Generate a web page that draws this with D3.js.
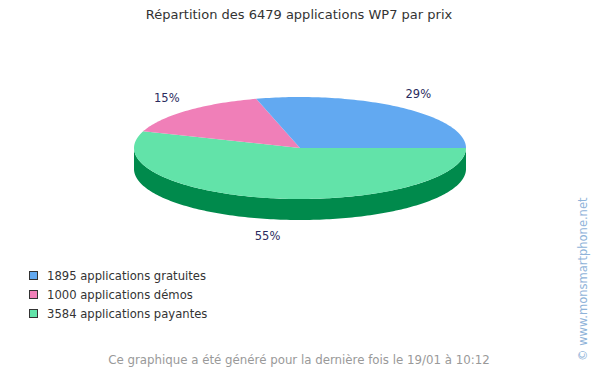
<!DOCTYPE html>
<html>
<head>
<meta charset="utf-8">
<script src="https://cdn.jsdelivr.net/npm/d3@7"></script>
<style>
  body { margin: 0; background: #fff; }
  text { font-family: "DejaVu Sans", sans-serif; }
</style>
</head>
<body>
<div id="chart"></div>
<script>
const title = "Répartition des 6479 applications WP7 par prix";
const labels = ["1895 applications gratuites", "1000 applications démos", "3584 applications payantes"];
const values = [1895, 1000, 3584];
const colors = ["#62a9f1", "#f07fb8", "#62e3a9"];
const sideColors = ["#2a74c0", "#c0488a", "#008a4c"];
const footer = "Ce graphique a été généré pour la dernière fois le 19/01 à 10:12";
const watermark = "© www.monsmartphone.net";

const width = 600;
const height = 372;
const cx = 300, cy = 148, rx = 166, ry = 51, depth = 21;
const lrx = 195, lry = 68;

const svg = d3.select("#chart")
    .append("svg")
    .attr("width", width)
    .attr("height", height);

svg.append("text")
    .attr("x", 299)
    .attr("y", 19)
    .attr("text-anchor", "middle")
    .attr("font-size", 13)
    .attr("fill", "#333")
    .text(title);

// pie drawn counter to legend order so green starts at 3 o'clock
const total = d3.sum(values);
const pie = d3.pie()
    .sort(null)
    .value(d => d.v)
    .startAngle(Math.PI / 2)
    .endAngle(Math.PI / 2 + 2 * Math.PI);

const items = values.map((v, i) => ({ v, i })).reverse();
const arcs = pie(items);

const px = a => cx + rx * Math.sin(a);
const py = a => cy - ry * Math.cos(a);

function arcPoints(a0, a1, dy) {
    const pts = [];
    const n = Math.max(2, Math.ceil((a1 - a0) / 0.02));
    for (let k = 0; k <= n; k++) {
        const a = a0 + (a1 - a0) * k / n;
        pts.push([px(a), py(a) + dy]);
    }
    return pts;
}

const line = d3.line();

// side walls (front half only: angles between PI/2 and 3PI/2, mod 2PI)
const g = svg.append("g");
arcs.forEach(d => {
    [0, 2 * Math.PI].forEach(off => {
        const a0 = Math.max(d.startAngle, Math.PI / 2 + off);
        const a1 = Math.min(d.endAngle, 3 * Math.PI / 2 + off);
        if (a1 > a0) {
            const top = arcPoints(a0, a1, 0);
            const bot = arcPoints(a0, a1, depth).reverse();
            g.append("path")
                .attr("d", line(top.concat(bot)) + "Z")
                .attr("fill", sideColors[d.data.i]);
        }
    });
});

// top faces
arcs.forEach(d => {
    const pts = [[cx, cy]].concat(arcPoints(d.startAngle, d.endAngle, 0));
    g.append("path")
        .attr("d", line(pts) + "Z")
        .attr("fill", colors[d.data.i]);
});

// percentage labels
arcs.forEach(d => {
    const m = (d.startAngle + d.endAngle) / 2;
    const lx = cx + lrx * Math.sin(m);
    let ly = cy - lry * Math.cos(m);
    if (Math.cos(m) < 0) ly += depth;
    svg.append("text")
        .attr("x", lx)
        .attr("y", ly)
        .attr("dy", "0.35em")
        .attr("text-anchor", "middle")
        .attr("font-size", 11.5)
        .attr("fill", "#2b2b5e")
        .text(d3.format(".0f")(d.data.v / total * 100) + "%");
});

// legend
const legend = svg.append("g");
labels.forEach((t, i) => {
    const y = 276 + i * 19;
    legend.append("rect")
        .attr("x", 29.5)
        .attr("y", y - 4.5)
        .attr("width", 8)
        .attr("height", 8)
        .attr("fill", colors[i])
        .attr("stroke", "#333")
        .attr("stroke-width", 1);
    legend.append("text")
        .attr("x", 47)
        .attr("y", y)
        .attr("dy", "0.35em")
        .attr("font-size", 11.6)
        .attr("fill", "#333")
        .text(t);
});

svg.append("text")
    .attr("x", 299)
    .attr("y", 364)
    .attr("text-anchor", "middle")
    .attr("font-size", 11.8)
    .attr("fill", "#999")
    .text(footer);

svg.append("text")
    .attr("transform", "translate(587,361) rotate(-90)")
    .attr("font-size", 11.5)
    .attr("fill", "#8fb3d9")
    .text(watermark);
</script>
</body>
</html>
